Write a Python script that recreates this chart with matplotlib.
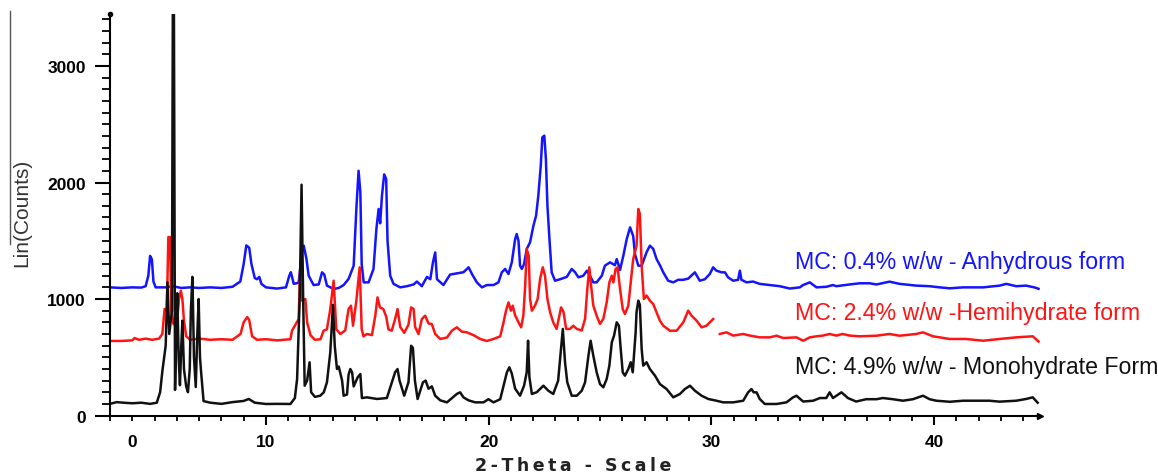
import numpy as np
import matplotlib
matplotlib.use("Agg")
import matplotlib.pyplot as plt
from matplotlib.ticker import MultipleLocator
from matplotlib.lines import Line2D

# 2-theta (deg) / counts
anhyd_2t = [3.0, 3.5, 4.0, 4.4, 4.6, 4.72, 4.8, 4.88, 4.95, 5.05, 5.5, 5.8, 6.2, 6.6, 7.0, 7.5, 8.0, 8.5,
            8.85, 9.0, 9.12, 9.25, 9.35, 9.5, 9.6, 9.7, 9.8, 10.0, 10.5, 10.9, 11.05, 11.12, 11.25, 11.47,
            11.62, 11.7, 11.82, 11.92, 12.14, 12.37, 12.52, 12.62, 12.74, 13.04, 13.27, 13.49, 13.71, 13.94,
            14.06, 14.16, 14.24, 14.3, 14.39, 14.61, 14.83, 14.96, 15.06, 15.13, 15.21, 15.31, 15.4, 15.46,
            15.58, 15.73, 16.03, 16.33, 16.63, 16.78, 17.0, 17.23, 17.38, 17.5, 17.6, 17.68, 17.97, 18.27,
            18.57, 18.87, 19.1, 19.25, 19.47, 19.7, 19.92, 20.22, 20.44, 20.59, 20.74, 20.89, 21.04, 21.19,
            21.26, 21.34, 21.41, 21.49, 21.59, 21.71, 21.86, 22.01, 22.13, 22.23, 22.34, 22.41, 22.5, 22.57,
            22.64, 22.73, 22.83, 22.98, 23.21, 23.51, 23.73, 23.88, 24.03, 24.25, 24.41, 24.55, 24.7, 24.85,
            25.08, 25.22, 25.45, 25.67, 25.75, 25.9, 26.04, 26.2, 26.35, 26.49, 26.57, 26.72, 26.87, 27.09,
            27.24, 27.39, 27.54, 27.69, 27.84, 28.06, 28.29, 28.51, 28.74, 28.96, 29.26, 29.48, 29.71, 29.93,
            30.08, 30.23, 30.46, 30.61, 30.75, 30.98, 31.2, 31.28, 31.35, 31.58, 31.87, 32.17, 32.62, 33.07,
            33.52, 33.97, 34.12, 34.42, 34.72, 35.16, 35.46, 35.61, 36.21, 36.66, 37.11, 37.41, 38.0, 38.45,
            39.2, 39.8, 40.25, 40.7, 41.3, 42.2, 42.94, 43.24, 43.69, 44.13, 44.5, 44.69]
anhyd_cts = [1100, 1095, 1100, 1098, 1110, 1200, 1370, 1340, 1150, 1100, 1100, 1110, 1095, 1100, 1095, 1100, 1095, 1105,
             1150, 1300, 1460, 1440, 1300, 1180, 1170, 1190, 1130, 1100, 1090, 1100, 1200, 1230, 1130, 1140,
             1400, 1458, 1343, 1200, 1120, 1125, 1229, 1210, 1115, 1086, 1095, 1120, 1172, 1286,
             1773, 2101, 1916, 1300, 1143, 1143, 1258, 1601, 1773, 1650, 1887, 2070, 2030, 1500,
             1200, 1130, 1100, 1110, 1125, 1150, 1110, 1190, 1170, 1315, 1400, 1170, 1120, 1210,
             1220, 1230, 1272, 1215, 1143, 1100, 1120, 1120, 1143, 1229, 1258, 1215, 1315, 1515,
             1558, 1500, 1286, 1258, 1300, 1429, 1487, 1629, 1715, 1887, 2144, 2388, 2402, 2202,
             1801, 1515, 1229, 1157, 1170, 1190, 1258, 1230, 1186, 1200, 1243, 1200, 1143, 1143,
             1200, 1286, 1315, 1290, 1343, 1250, 1365, 1515, 1615, 1540, 1386, 1286, 1286, 1401,
             1458, 1430, 1343, 1290, 1229, 1157, 1143, 1165, 1165, 1175, 1229, 1157, 1170, 1215,
             1272, 1243, 1229, 1229, 1186, 1157, 1165, 1243, 1165, 1143, 1150, 1130, 1120, 1110,
             1090, 1100, 1120, 1143, 1100, 1105, 1120, 1110, 1125, 1135, 1135, 1125, 1149, 1130,
             1115, 1110, 1100, 1092, 1100, 1100, 1115, 1130, 1110, 1115, 1100, 1088]

hemi_2t = [3.0, 3.5, 4.0, 4.1, 4.3, 4.6, 4.9, 5.2, 5.35, 5.45, 5.55, 5.62, 5.7, 5.75, 5.85, 6.0, 6.1, 6.18,
           6.25, 6.32, 6.42, 6.6, 7.0, 7.5, 8.0, 8.5, 8.86, 9.0, 9.16, 9.25, 9.38, 9.6, 10.0, 10.5, 11.1,
           11.17, 11.47, 11.55, 11.62, 11.77, 11.85, 12.0, 12.2, 12.45, 12.59, 12.74, 12.89, 13.04, 13.16,
           13.34, 13.56, 13.71, 13.82, 13.91, 14.06, 14.21, 14.3, 14.38, 14.54, 14.76, 14.91, 15.01, 15.12,
           15.27, 15.4, 15.5, 15.65, 15.8, 15.91, 16.03, 16.21, 16.4, 16.52, 16.63, 16.7, 16.85, 17.0, 17.15,
           17.3, 17.45, 17.6, 17.83, 18.13, 18.35, 18.57, 18.8, 19.02, 19.32, 19.62, 19.92, 20.22, 20.52,
           20.67, 20.78, 20.89, 21.0, 21.08, 21.19, 21.34, 21.46, 21.56, 21.64, 21.71, 21.8, 21.86, 21.94,
           22.08, 22.2, 22.31, 22.43, 22.53, 22.64, 22.76, 22.9, 23.05, 23.18, 23.25, 23.36, 23.48, 23.65,
           23.8, 23.96, 24.18, 24.33, 24.43, 24.52, 24.6, 24.7, 24.85, 25.0, 25.15, 25.3, 25.42, 25.53,
           25.6, 25.7, 25.79, 25.9, 26.02, 26.12, 26.27, 26.35, 26.49, 26.64, 26.72, 26.79, 26.87, 26.97,
           27.09, 27.24, 27.39, 27.54, 27.69, 27.84, 28.14, 28.44, 28.74, 28.96, 29.11, 29.34, 29.56, 29.78,
           30.08, 30.2, 30.38, 30.68, 30.98, 31.43, 31.73, 32.17, 32.48, 32.62, 32.93, 33.22, 33.82, 34.12,
           34.42, 34.72, 35.01, 35.31, 35.61, 35.9, 36.21, 36.66, 37.41, 38.0, 38.45, 39.2, 39.5, 39.95,
           40.7, 41.44, 42.2, 42.94, 43.69, 44.43, 44.69]
hemi_cts = [640, 640, 645, 665, 650, 660, 650, 660, 700, 914, 900, 1532, 1532, 900, 785, 790, 1000, 1071,
            1000, 814, 680, 650, 660, 650, 655, 650, 700, 800, 845, 820, 680, 650, 655, 645, 655,
            728, 828, 1329, 986, 1000, 800, 690, 650, 655, 728, 740, 914, 1157, 740,
            700, 730, 914, 943, 771, 986, 1272, 740, 680, 700, 690, 857, 1014, 928,
            914, 850, 740, 728, 828, 914, 760, 710, 780, 928, 914, 760, 700, 828, 857,
            790, 785, 700, 657, 670, 728, 757, 720, 714, 690, 657, 640, 657, 680,
            800, 900, 971, 900, 943, 860, 800, 757, 860, 1114, 1429, 1370, 1000, 900,
            943, 1000, 1172, 1272, 1200, 1000, 886, 800, 743, 860, 928, 890, 743, 743,
            771, 743, 730, 830, 1086, 1272, 1114, 943, 857, 786, 830, 971, 1143, 1200,
            1143, 1258, 1272, 1086, 914, 871, 943, 1086, 1343, 1458, 1773, 1730, 1286, 1000,
            1030, 986, 957, 886, 814, 771, 728, 728, 800, 900, 857, 814, 757, 771,
            828, np.nan, 700, 714, 686, 700, 686, 671, 671, 671, 685, 665, 671, 642,
            671, 680, 686, 700, 686, 700, 686, 680, 685, 700, 685, 700, 714, 680,
            657, 657, 642, 657, 671, 680, 635]

mono_2t = [3.0, 3.3, 3.6, 4.0, 4.4, 4.8, 5.1, 5.25, 5.35, 5.5, 5.58, 5.66, 5.78, 5.82, 5.87, 5.92, 5.97,
           6.02, 6.08, 6.14, 6.2, 6.25, 6.32, 6.42, 6.5, 6.58, 6.63, 6.7, 6.77, 6.85, 6.92, 6.98, 7.04, 7.09,
           7.2, 7.5, 8.0, 8.5, 9.0, 9.23, 9.5, 10.0, 10.5, 11.1, 11.3, 11.4, 11.52, 11.6, 11.67, 11.74,
           11.85, 11.96, 12.03, 12.2, 12.44, 12.6, 12.74, 12.89, 13.01, 13.09, 13.19, 13.27, 13.42, 13.49,
           13.64, 13.71, 13.79, 13.87, 13.94, 14.12, 14.24, 14.31, 14.54, 14.99, 15.43, 15.8, 15.91, 16.0,
           16.21, 16.4, 16.52, 16.6, 16.69, 16.81, 17.05, 17.17, 17.3, 17.45, 17.6, 17.83, 18.13, 18.42,
           18.57, 18.72, 18.87, 19.1, 19.4, 19.77, 19.99, 20.22, 20.52, 20.67, 20.82, 20.93, 21.04, 21.19,
           21.41, 21.59, 21.71, 21.77, 21.83, 21.94, 22.16, 22.46, 22.68, 22.9, 23.12, 23.33, 23.43, 23.53,
           23.73, 23.96, 24.18, 24.33, 24.48, 24.58, 24.7, 24.85, 25.0, 25.15, 25.3, 25.42, 25.53, 25.63,
           25.75, 25.85, 25.93, 26.02, 26.12, 26.27, 26.38, 26.47, 26.6, 26.64, 26.72, 26.79, 26.87, 26.94,
           27.09, 27.24, 27.47, 27.69, 27.99, 28.29, 28.59, 28.81, 29.04, 29.26, 29.56, 29.86, 30.23, 30.53,
           30.98, 31.43, 31.65, 31.8, 31.9, 32.03, 32.17, 32.4, 32.93, 33.37, 33.67, 33.82, 34.12, 34.57,
           34.87, 35.16, 35.31, 35.46, 35.84, 36.13, 36.5, 36.95, 37.41, 37.7, 38.15, 38.6, 39.05, 39.5,
           39.8, 40.1, 40.7, 41.3, 41.9, 42.49, 42.94, 43.69, 44.13, 44.43, 44.65]
mono_cts = [100, 115, 110, 105, 110, 100, 110, 200, 380, 600, 1143, 700, 900, 3450, 3450, 220, 700,
            1050, 500, 260, 600, 814, 400, 250, 200, 400, 900, 1190, 500, 245, 700, 1000, 500, 373,
            124, 110, 100, 115, 125, 142, 110, 99, 100, 99, 150, 313, 1029, 1981, 1029, 256,
            300, 457, 200, 160, 170, 200, 285, 542, 950, 599, 399, 420, 300, 170,
            180, 350, 399, 370, 250, 328, 356, 150, 156, 142, 150, 371, 399, 300,
            170, 285, 599, 580, 300, 142, 285, 300, 230, 250, 170, 130, 113, 160,
            185, 199, 156, 130, 113, 113, 140, 113, 140, 256, 371, 414, 360, 230,
            170, 256, 371, 642, 330, 185, 200, 256, 213, 185, 299, 743, 457, 285,
            170, 170, 213, 285, 513, 642, 513, 371, 270, 242, 313, 428, 628, 685,
            800, 770, 571, 371, 342, 399, 457, 371, 714, 886, 986, 950, 571, 428,
            457, 399, 342, 270, 227, 156, 185, 227, 256, 213, 170, 142, 127, 113,
            113, 127, 199, 227, 199, 199, 142, 99, 99, 113, 156, 170, 120, 127,
            150, 150, 199, 150, 199, 150, 120, 140, 140, 150, 140, 127, 140, 170,
            140, 127, 118, 127, 127, 127, 119, 127, 142, 156, 110]

labels = ["MC: 0.4% w/w - Anhydrous form",
          "MC: 2.4% w/w -Hemihydrate form",
          "MC: 4.9% w/w - Monohydrate Form"]
label_y = [1326, 888, 425]
colors = ["#1414ff", "#ff1414", "#111111"]

fig = plt.figure(figsize=(11.58, 4.77), dpi=100)
ax = fig.add_axes([0.095, 0.1268, 0.803, 0.8426])

ax.plot(anhyd_2t, anhyd_cts, color=colors[0], lw=1.8)
ax.plot(hemi_2t, hemi_cts, color=colors[1], lw=1.8)
ax.plot(mono_2t, mono_cts, color=colors[2], lw=1.8)

for txt, yy, c in zip(labels, label_y, colors):
    ax.text(33.74, yy, txt, color=c, fontsize=16.7, family="Liberation Sans",
            ha="left", va="center")

ax.set_xlim(3.0, 44.75)
ax.set_ylim(0, 3450)

for s in ["top", "right"]:
    ax.spines[s].set_visible(False)
for s in ["left", "bottom"]:
    ax.spines[s].set_linewidth(1.5)

ax.set_yticks([0, 1000, 2000, 3000])
ax.yaxis.set_minor_locator(MultipleLocator(100))
ax.set_xticks([10, 20, 30, 40])
ax.xaxis.set_minor_locator(MultipleLocator(1))
ax.tick_params(axis="y", which="major", length=10.8, width=1.5, pad=6.5)
ax.tick_params(axis="y", which="minor", length=5.8, width=1.3)
ax.tick_params(axis="x", which="major", length=6.5, width=1.5, pad=7)
ax.tick_params(axis="x", which="minor", length=3.6, width=1.3)
for lab in ax.get_xticklabels() + ax.get_yticklabels():
    lab.set_fontfamily("Liberation Sans")
    lab.set_fontweight("bold")
    lab.set_fontsize(12.5)

# the reference prints a lone "0" under the 4-degree tick
ax.annotate("0", xy=(4, 0), xycoords=("data", "axes fraction"), xytext=(0, -13.5),
            textcoords="offset points", ha="center", va="top",
            fontsize=12.5, fontweight="bold", family="Liberation Sans")

# small axis-end marks
ax.plot(0, 1, marker="o", ms=3, color="k", transform=ax.transAxes, clip_on=False)
ax.plot(1, 0, marker=">", ms=4, color="k", transform=ax.transAxes, clip_on=False)

fig.text(22 / 1158, 1 - 213 / 477, "Lin(Counts)", rotation=90, ha="center", va="center",
         fontsize=15, family="Liberation Sans", color="#333333")
fig.add_artist(Line2D([10 / 1158, 10 / 1158], [1 - 12 / 477, 1 - 245 / 477], color="#555555", lw=1))

# x title is letter-spaced in the reference
xtitle = "\u2009".join("2-Theta - Scale")
fig.text(573 / 1158, 1 - 466 / 477, xtitle, ha="center", va="center",
         fontsize=12.5, fontweight="bold", color="#222222")

fig.savefig("out.png", dpi=100)
